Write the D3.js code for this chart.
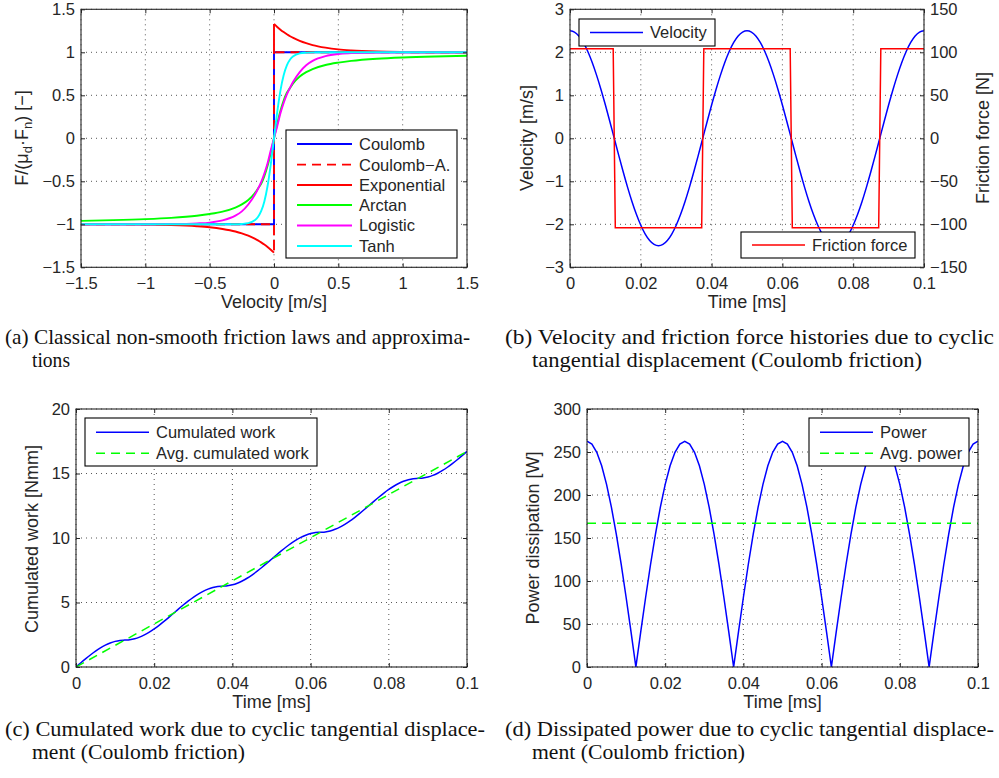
<!DOCTYPE html>
<html><head><meta charset="utf-8">
<script src="https://cdn.jsdelivr.net/npm/d3@7"></script>
<style>body{margin:0;background:#fff}svg{display:block}</style>
</head><body><script>
// ---------------- DATA ----------------
// (a) friction laws
const vel = [-1.5,-1.25,-1,-0.8,-0.6,-0.5,-0.4,-0.3,-0.25,-0.2,-0.15,-0.125,-0.1,-0.075,-0.05,-0.025,0,0.025,0.05,0.075,0.1,0.125,0.15,0.2,0.25,0.3,0.4,0.5,0.6,0.8,1,1.25,1.5];
const arctanLaw = [-0.960,-0.952,-0.940,-0.925,-0.900,-0.880,-0.852,-0.805,-0.769,-0.718,-0.641,-0.586,-0.53,-0.44,-0.32,-0.17,0,0.17,0.32,0.44,0.53,0.586,0.641,0.718,0.769,0.805,0.852,0.880,0.900,0.925,0.940,0.952,0.960];
const logisticLaw = [-1,-1,-1,-0.998,-0.99,-0.98,-0.955,-0.90,-0.85,-0.77,-0.66,-0.59,-0.51,-0.41,-0.29,-0.14,0,0.14,0.29,0.41,0.51,0.59,0.66,0.77,0.85,0.90,0.955,0.98,0.99,0.998,1,1,1];
const tanhLaw = [-1,-1,-1,-1,-1,-1,-1,-0.999,-0.996,-0.987,-0.954,-0.916,-0.848,-0.734,-0.555,-0.303,0,0.303,0.555,0.734,0.848,0.916,0.954,0.987,0.996,0.999,1,1,1,1,1,1,1];
const expNeg = [-1.0,-1.001,-1.0035,-1.009,-1.022,-1.034,-1.054,-1.084,-1.106,-1.133,-1.167,-1.187,-1.210,-1.235,-1.263,-1.295,-1.33]; // vel <= 0
const expPos = [1.33,1.295,1.263,1.235,1.210,1.187,1.167,1.133,1.106,1.084,1.054,1.034,1.022,1.009,1.0035,1.001,1.0];       // vel >= 0
const coulombV = [-1.5,0,0,1.5];
const coulombF = [-1,-1,1,1];
const coulombAV = [-1.5,0,0,0,0,1.5];
const coulombAF = [-1,-1,-1.33,1.33,1,1];
const lawNames = ["Coulomb","Coulomb\u2212A.","Exponential","Arctan","Logistic","Tanh"];
const velTicks = [-1.5,-1,-0.5,0,0.5,1,1.5];
const normTicks = [-1.5,-1,-0.5,0,0.5,1,1.5];

// (b)(c)(d) time histories
const time = [0,0.00125,0.0025,0.00375,0.005,0.00625,0.0075,0.00875,0.01,0.01125,
0.0125,0.01375,0.015,0.01625,0.0175,0.01875,0.02,0.02125,0.0225,0.02375,
0.025,0.02625,0.0275,0.02875,0.03,0.03125,0.0325,0.03375,0.035,0.03625,
0.0375,0.03875,0.04,0.04125,0.0425,0.04375,0.045,0.04625,0.0475,0.04875,
0.05,0.05125,0.0525,0.05375,0.055,0.05625,0.0575,0.05875,0.06,0.06125,
0.0625,0.06375,0.065,0.06625,0.0675,0.06875,0.07,0.07125,0.0725,0.07375,
0.075,0.07625,0.0775,0.07875,0.08,0.08125,0.0825,0.08375,0.085,0.08625,
0.0875,0.08875,0.09,0.09125,0.0925,0.09375,0.095,0.09625,0.0975,0.09875,0.1];
const velocity = [2.5,2.469,2.378,2.228,2.023,1.768,1.469,1.135,0.773,0.391,
0,-0.391,-0.773,-1.135,-1.469,-1.768,-2.023,-2.228,-2.378,-2.469,
-2.5,-2.469,-2.378,-2.228,-2.023,-1.768,-1.469,-1.135,-0.773,-0.391,
0,0.391,0.773,1.135,1.469,1.768,2.023,2.228,2.378,2.469,
2.5,2.469,2.378,2.228,2.023,1.768,1.469,1.135,0.773,0.391,
0,-0.391,-0.773,-1.135,-1.469,-1.768,-2.023,-2.228,-2.378,-2.469,
-2.5,-2.469,-2.378,-2.228,-2.023,-1.768,-1.469,-1.135,-0.773,-0.391,
0,0.391,0.773,1.135,1.469,1.768,2.023,2.228,2.378,2.469,2.5];
const frictionT = [0,0.0122,0.0128,0.0372,0.0378,0.0622,0.0628,0.0872,0.0878,0.1];
const frictionF = [104,104,-104,-104,104,104,-104,-104,104,104];
const work = [0,0.327,0.645,0.948,1.228,1.477,1.690,1.861,1.987,2.063,
2.089,2.115,2.191,2.317,2.488,2.701,2.950,3.230,3.533,3.851,
4.178,4.505,4.823,5.126,5.406,5.655,5.868,6.039,6.165,6.241,
6.267,6.293,6.369,6.495,6.666,6.879,7.128,7.408,7.711,8.029,
8.356,8.683,9.001,9.304,9.584,9.833,10.046,10.217,10.343,10.419,
10.445,10.471,10.547,10.673,10.844,11.057,11.306,11.586,11.889,12.207,
12.534,12.861,13.179,13.482,13.762,14.011,14.224,14.395,14.521,14.597,
14.623,14.649,14.725,14.851,15.022,15.235,15.484,15.764,16.067,16.385,16.712];
const avgWorkT = [0,0.1];
const avgWork = [0,16.71];
const power = [262.5,259.3,249.7,233.9,212.4,185.6,154.3,119.2,81.1,41.1,
0,41.1,81.1,119.2,154.3,185.6,212.4,233.9,249.7,259.3,
262.5,259.3,249.7,233.9,212.4,185.6,154.3,119.2,81.1,41.1,
0,41.1,81.1,119.2,154.3,185.6,212.4,233.9,249.7,259.3,
262.5,259.3,249.7,233.9,212.4,185.6,154.3,119.2,81.1,41.1,
0,41.1,81.1,119.2,154.3,185.6,212.4,233.9,249.7,259.3,
262.5,259.3,249.7,233.9,212.4,185.6,154.3,119.2,81.1,41.1,
0,41.1,81.1,119.2,154.3,185.6,212.4,233.9,249.7,259.3,262.5];
const avgPowerT = [0,0.1];
const avgPower = [167.1,167.1];
const timeTicks = [0,0.02,0.04,0.06,0.08,0.1];
const velHistTicks = [-3,-2,-1,0,1,2,3];
const forceTicks = [-150,-100,-50,0,50,100,150];
const workTicks = [0,5,10,15,20];
const powerTicks = [0,50,100,150,200,250,300];

const captions = [
 {label:"(a)", l1:"Classical non-smooth friction laws and approxima-", l2:"tions"},
 {label:"(b)", l1:"Velocity and friction force histories due to cyclic", l2:"tangential displacement (Coulomb friction)"},
 {label:"(c)", l1:"Cumulated work due to cyclic tangential displace-", l2:"ment (Coulomb friction)"},
 {label:"(d)", l1:"Dissipated power due to cyclic tangential displace-", l2:"ment (Coulomb friction)"}
];

// ---------------- DRAWING ----------------
const FONT = "'Liberation Sans', Arial, Helvetica, sans-serif";
const SERIF = "'Liberation Serif', 'Times New Roman', serif";
const INK = "#262626";
const fmt = d => d3.format("")(d).replace("-", "\u2212");

const svg = d3.select("body").append("svg").attr("width",999).attr("height",778)
  .style("font-family", FONT);

function panel(o){
  const x = d3.scaleLinear().domain(o.xd).range([o.l,o.r]);
  const y = d3.scaleLinear().domain(o.yd).range([o.b,o.t]);
  const g = svg.append("g");
  g.append("clipPath").attr("id","clip"+o.id).append("rect")
    .attr("x",o.l).attr("y",o.t).attr("width",o.r-o.l).attr("height",o.b-o.t);
  const grid = g.append("g").attr("stroke","#444").attr("stroke-width",0.9).attr("stroke-dasharray","1,4");
  o.xt.forEach(v=>grid.append("line").attr("x1",x(v)).attr("x2",x(v)).attr("y1",o.t).attr("y2",o.b));
  o.yt.forEach(v=>grid.append("line").attr("y1",y(v)).attr("y2",y(v)).attr("x1",o.l).attr("x2",o.r));
  const plot = g.append("g").attr("clip-path",`url(#clip${o.id})`);
  return {x,y,g,plot,o};
}
function finishAxes(P, opts={}){
  const {x,y,g,o} = P;
  const style = s => s.attr("font-size",16.5).attr("font-family",FONT).attr("color",INK);
  const ab = g.append("g").attr("transform",`translate(0,${o.b})`)
    .call(d3.axisBottom(x).tickValues(o.xt).tickFormat(fmt).tickSizeInner(-4).tickSizeOuter(0).tickPadding(10));
  style(ab); ab.select(".domain").remove();
  const at = g.append("g").attr("transform",`translate(0,${o.t})`)
    .call(d3.axisTop(x).tickValues(o.xt).tickFormat("").tickSizeInner(-4).tickSizeOuter(0));
  style(at); at.select(".domain").remove();
  const al = g.append("g").attr("transform",`translate(${o.l},0)`)
    .call(d3.axisLeft(y).tickValues(o.yt).tickFormat(fmt).tickSizeInner(-4).tickSizeOuter(0).tickPadding(6));
  style(al); al.select(".domain").remove();
  if (opts.yR){
    const ar = g.append("g").attr("transform",`translate(${o.r},0)`)
      .call(d3.axisRight(opts.yR).tickValues(opts.yRt).tickFormat(fmt).tickSizeInner(-4).tickSizeOuter(0).tickPadding(6));
    style(ar); ar.select(".domain").remove();
  } else {
    const ar = g.append("g").attr("transform",`translate(${o.r},0)`)
      .call(d3.axisRight(y).tickValues(o.yt).tickFormat("").tickSizeInner(-4).tickSizeOuter(0));
    style(ar); ar.select(".domain").remove();
  }
  g.append("rect").attr("x",o.l).attr("y",o.t).attr("width",o.r-o.l).attr("height",o.b-o.t)
    .attr("fill","none").attr("stroke",INK).attr("stroke-width",1.1);
  g.append("text").attr("x",(o.l+o.r)/2).attr("y",o.b+41).attr("text-anchor","middle")
    .attr("font-size",18).attr("fill",INK).text(o.xTitle);
}
function yTitle(g, xb, yc, build){
  const t = g.append("text").attr("transform",`translate(${xb},${yc}) rotate(-90)`)
    .attr("text-anchor","middle").attr("font-size",18).attr("fill",INK);
  build(t);
}
function legend(g, box, rows){
  g.append("rect").attr("x",box.x0).attr("y",box.y0).attr("width",box.x1-box.x0).attr("height",box.y1-box.y0)
    .attr("fill","#fff").attr("stroke","#000").attr("stroke-width",1.1);
  rows.forEach(r=>{
    g.append("line").attr("x1",box.lx0).attr("x2",box.lx1).attr("y1",r.y).attr("y2",r.y)
      .attr("stroke",r.color).attr("stroke-width",r.w||1.8).attr("stroke-dasharray",r.dash||null);
    g.append("text").attr("x",box.tx).attr("y",r.y).attr("dy","0.36em").attr("font-size",16.5)
      .attr("fill",INK).text(r.label);
  });
}
const lineXY = (x,y,curve) => d3.line().x(d=>x(d[0])).y(d=>y(d[1])).curve(curve||d3.curveLinear);
const zip = (a,b) => a.map((v,i)=>[v,b[i]]);

// ---------- (a) ----------
{
  const P = panel({id:"a", l:81, r:467, t:9.3, b:267.3, xd:[-1.5,1.5], yd:[-1.5,1.5], xt:velTicks, yt:normTicks, xTitle:"Velocity [m/s]"});
  const {x,y,plot} = P;
  const sw = 1.9;
  plot.append("path").attr("d", lineXY(x,y)(zip(coulombV,coulombF))).attr("fill","none").attr("stroke","#0000ff").attr("stroke-width",sw);
  plot.append("path").attr("d", lineXY(x,y)(zip(coulombAV,coulombAF))).attr("fill","none").attr("stroke","#ff0000").attr("stroke-width",sw).attr("stroke-dasharray","9,6");
  const velNeg = vel.filter(v=>v<=0), velPos = vel.filter(v=>v>=0);
  plot.append("path").attr("d", lineXY(x,y,d3.curveMonotoneX)(zip(velNeg,expNeg))).attr("fill","none").attr("stroke","#ff0000").attr("stroke-width",sw);
  plot.append("path").attr("d", lineXY(x,y,d3.curveMonotoneX)(zip(velPos,expPos))).attr("fill","none").attr("stroke","#ff0000").attr("stroke-width",sw);
  [[arctanLaw,"#00ff00"],[logisticLaw,"#ff00ff"],[tanhLaw,"#00ffff"]].forEach(([s,c])=>{
    plot.append("path").attr("d", lineXY(x,y,d3.curveMonotoneX)(zip(vel,s))).attr("fill","none").attr("stroke",c).attr("stroke-width",sw);
  });
  finishAxes(P);
  yTitle(P.g, 28, 138, t=>{
    t.append("tspan").text("F/(\u03bc");
    t.append("tspan").attr("font-size",13).attr("dy",4).text("d");
    t.append("tspan").attr("dy",-4).text("\u00b7F");
    t.append("tspan").attr("font-size",13).attr("dy",4).text("n");
    t.append("tspan").attr("dy",-4).text(") [\u2212]");
  });
  const cols = ["#0000ff","#ff0000","#ff0000","#00ff00","#ff00ff","#00ffff"];
  const ys = [144,164.7,185,205,225.5,246];
  legend(P.g, {x0:286,x1:457,y0:130,y1:258,lx0:297,lx1:352,tx:359},
    lawNames.map((n,i)=>({label:n, color:cols[i], y:ys[i], dash: i===1?"9,6":null})));
}
// ---------- (b) ----------
{
  const P = panel({id:"b", l:570, r:924, t:9.3, b:267.3, xd:[0,0.1], yd:[-3,3], xt:timeTicks, yt:velHistTicks, xTitle:"Time [ms]"});
  const {x,y,plot} = P;
  const yR = d3.scaleLinear().domain([-150,150]).range([267.3,9.3]);
  plot.append("path").attr("d", lineXY(x,y,d3.curveMonotoneX)(zip(time,velocity))).attr("fill","none").attr("stroke","#0000ff").attr("stroke-width",1.5);
  plot.append("path").attr("d", lineXY(x,yR)(zip(frictionT,frictionF))).attr("fill","none").attr("stroke","#ff0000").attr("stroke-width",1.5);
  finishAxes(P, {yR, yRt:forceTicks});
  yTitle(P.g, 533, 138, t=>t.text("Velocity [m/s]"));
  yTitle(P.g, 989, 138, t=>t.text("Friction force [N]"));
  legend(P.g, {x0:579,x1:715,y0:19,y1:46,lx0:590,lx1:643,tx:650}, [{label:"Velocity",color:"#0000ff",y:32.5,w:1.5}]);
  legend(P.g, {x0:741,x1:915,y0:232,y1:258,lx0:752,lx1:805,tx:812}, [{label:"Friction force",color:"#ff0000",y:245,w:1.5}]);
}
// ---------- (c) ----------
{
  const P = panel({id:"c", l:76, r:467, t:409, b:667, xd:[0,0.1], yd:[0,20], xt:timeTicks, yt:workTicks, xTitle:"Time [ms]"});
  const {x,y,plot} = P;
  plot.append("path").attr("d", lineXY(x,y,d3.curveMonotoneX)(zip(time,work))).attr("fill","none").attr("stroke","#0000ff").attr("stroke-width",1.5);
  plot.append("path").attr("d", lineXY(x,y)(zip(avgWorkT,avgWork))).attr("fill","none").attr("stroke","#00ff00").attr("stroke-width",1.5).attr("stroke-dasharray","9,6");
  finishAxes(P);
  yTitle(P.g, 38, 539, t=>t.text("Cumulated work [Nmm]"));
  legend(P.g, {x0:85,x1:317,y0:418,y1:466,lx0:96,lx1:149,tx:156},
    [{label:"Cumulated work",color:"#0000ff",y:432.3,w:1.5},{label:"Avg. cumulated work",color:"#00ff00",y:453.3,w:1.5,dash:"9,6"}]);
}
// ---------- (d) ----------
{
  const P = panel({id:"d", l:587, r:978, t:409, b:667, xd:[0,0.1], yd:[0,300], xt:timeTicks, yt:powerTicks, xTitle:"Time [ms]"});
  const {x,y,plot} = P;
  plot.append("path").attr("d", lineXY(x,y)(zip(time,power))).attr("fill","none").attr("stroke","#0000ff").attr("stroke-width",1.5);
  plot.append("path").attr("d", lineXY(x,y)(zip(avgPowerT,avgPower))).attr("fill","none").attr("stroke","#00ff00").attr("stroke-width",1.5).attr("stroke-dasharray","9,6");
  finishAxes(P);
  yTitle(P.g, 539, 538, t=>t.text("Power dissipation [W]"));
  legend(P.g, {x0:809,x1:969,y0:418,y1:466,lx0:820,lx1:873,tx:880},
    [{label:"Power",color:"#0000ff",y:432.3,w:1.5},{label:"Avg. power",color:"#00ff00",y:453.3,w:1.5,dash:"9,6"}]);
}
// ---------- captions ----------
const capPos = [{x:5,y:344,w:465,w2:38},{x:505,y:344,w:489,w2:390},{x:5,y:736,w:480,w2:213},{x:505,y:736,w:489,w2:213}];
captions.forEach((c,i)=>{
  const p = capPos[i];
  svg.append("text").attr("x",p.x).attr("y",p.y).attr("font-family",SERIF).attr("font-size",22).attr("fill","#111")
    .attr("textLength",p.w).attr("lengthAdjust","spacingAndGlyphs").text(c.label+" "+c.l1);
  svg.append("text").attr("x",p.x+27).attr("y",p.y+23).attr("font-family",SERIF).attr("font-size",22).attr("fill","#111")
    .attr("textLength",p.w2).attr("lengthAdjust","spacingAndGlyphs").text(c.l2);
});
</script></body></html>
